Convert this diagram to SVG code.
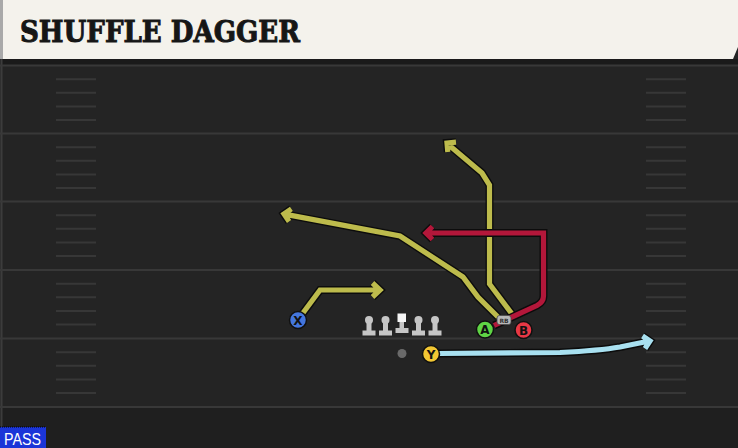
<svg xmlns="http://www.w3.org/2000/svg" xmlns:xlink="http://www.w3.org/1999/xlink" width="738" height="448" viewBox="0 0 738 448">
<defs>
<style>
.yard{stroke:#383838;stroke-width:2;fill:none}
.hash{stroke:#373737;stroke-width:2;fill:none}
.ol{fill:none;stroke:#0c0c0c;stroke-width:8;stroke-linejoin:miter;stroke-miterlimit:4}
.olive{fill:none;stroke:#bdbb4c;stroke-width:5.2;stroke-linejoin:miter;stroke-miterlimit:4}
.red{fill:none;stroke:#b3173a;stroke-width:5.2;stroke-linejoin:miter;stroke-miterlimit:4}
.blue{fill:none;stroke:#a8e0f0;stroke-width:5.2;stroke-linejoin:miter;stroke-miterlimit:4}
.lm{fill:#c6c6c6}
.pl{stroke:#101010;stroke-width:1.5}
.pt{font-family:"DejaVu Sans",sans-serif;font-weight:bold;font-size:12px;fill:#111;text-anchor:middle}
</style>
<path id="rX" d="M300,317 L320,290 L377,290 M372.5,283 L380,290 L372.5,297"/>
<path id="rPost" d="M498,317 L478,297 L463,277 L400,236 L287,214.6 M289.1,221.4 L284,214 L291.4,208.9"/>
<path id="rVert" d="M515,318 L489.5,284 L489.5,185 L482,173 L450,146 M447.8,152 L447,143 L456,142.2"/>
<path id="rRed" d="M494,325.5 L537,305.5 Q543.5,302 543.5,296 L543.5,233 L428,233 M432.5,226.5 L426,233 L432.5,239.5"/>
<path id="rY" d="M439,353.5 L560,352.5 Q600,350.5 620,347 L647,341.5 M642.5,336 L650,341 L645,348.5"/>
</defs>
<g id="field">
<rect x="0" y="0" width="738" height="448" fill="#242424"/>
<rect x="0" y="407" width="738" height="41" fill="#1f1f1f"/>
<rect x="0" y="59" width="738" height="6" fill="#1a1a1a"/>
<line x1="1.5" y1="59" x2="1.5" y2="448" stroke="#3c3c3c" stroke-width="2"/>
<g class="yard">
<line x1="0" y1="65.5" x2="738" y2="65.5"/>
<line x1="0" y1="133.5" x2="738" y2="133.5"/>
<line x1="0" y1="201.5" x2="738" y2="201.5"/>
<line x1="0" y1="270" x2="738" y2="270"/>
<line x1="0" y1="338.5" x2="738" y2="338.5"/>
<line x1="0" y1="407" x2="738" y2="407"/>
</g>
<g class="hash">
<path d="M56,79.2H96M56,92.8H96M56,106.5H96M56,120.1H96M56,147.2H96M56,160.8H96M56,174.5H96M56,188.1H96M56,215.2H96M56,228.8H96M56,242.5H96M56,256.1H96M56,283.7H96M56,297.3H96M56,311H96M56,324.6H96M56,352.2H96M56,365.8H96M56,379.5H96M56,393.1H96"/>
<path d="M646,79.2H686M646,92.8H686M646,106.5H686M646,120.1H686M646,147.2H686M646,160.8H686M646,174.5H686M646,188.1H686M646,215.2H686M646,228.8H686M646,242.5H686M646,256.1H686M646,283.7H686M646,297.3H686M646,311H686M646,324.6H686M646,352.2H686M646,365.8H686M646,379.5H686M646,393.1H686"/>
</g>
</g>
<g id="title">
<polygon points="0,0 738,0 738,47 733,59 0,59" fill="#f4f2ec"/>
<rect x="0" y="0" width="3" height="59" fill="#a9a9a9"/>
<text x="20" y="42" font-family="'DejaVu Serif',serif" font-weight="bold" font-size="30" fill="#161616" stroke="#161616" stroke-width="1" textLength="280" lengthAdjust="spacingAndGlyphs">SHUFFLE DAGGER</text>
</g>
<g id="connectors">
<use xlink:href="#rX" class="ol"/><use xlink:href="#rX" class="olive"/>
<use xlink:href="#rPost" class="ol"/><use xlink:href="#rPost" class="olive"/>
<use xlink:href="#rVert" class="ol"/><use xlink:href="#rVert" class="olive"/>
<use xlink:href="#rRed" class="ol"/><use xlink:href="#rRed" class="red"/>
<use xlink:href="#rY" class="ol"/><use xlink:href="#rY" class="blue"/>
</g>
<g id="line">
<g id="lt" class="lm"><circle cx="369" cy="320" r="4"/><rect x="366.5" y="322" width="5" height="9"/><rect x="362.5" y="330.5" width="13" height="5"/></g>
<g id="lg" class="lm"><circle cx="385.5" cy="320" r="4"/><rect x="383" y="322" width="5" height="9"/><rect x="379" y="330.5" width="13" height="5"/></g>
<g id="c" class="lm"><rect x="397.5" y="313.5" width="8.5" height="8.5" fill="#f6f6f6"/><rect x="399.5" y="322" width="4.5" height="7"/><rect x="395.5" y="328" width="13" height="5"/></g>
<g id="rg" class="lm"><circle cx="418.5" cy="320" r="4"/><rect x="416" y="322" width="5" height="9"/><rect x="412" y="330.5" width="13" height="5"/></g>
<g id="rt" class="lm"><circle cx="435" cy="320" r="4"/><rect x="432.5" y="322" width="5" height="9"/><rect x="428.5" y="330.5" width="13" height="5"/></g>
</g>
<g id="qb"><circle cx="402" cy="353.5" r="4.5" fill="#6a6a6a"/></g>
<g id="rb"><rect x="497" y="315.5" width="14" height="9" rx="2.5" fill="#b8b8b8" stroke="#4a4a4a" stroke-width="0.8"/><text x="504" y="322.5" font-family="'DejaVu Sans',sans-serif" font-weight="bold" font-size="6" fill="#333" text-anchor="middle">RB</text></g>
<g id="pX"><circle class="pl" cx="298" cy="320" r="8.5" fill="#4476dd"/><text class="pt" x="298" y="324.5">X</text></g>
<g id="pY"><circle class="pl" cx="431" cy="354" r="8.5" fill="#f2c733"/><text class="pt" x="431" y="358.5">Y</text></g>
<g id="pA"><circle class="pl" cx="485" cy="329.5" r="8.5" fill="#5fd445"/><text class="pt" x="485" y="334">A</text></g>
<g id="pB"><circle class="pl" cx="523.5" cy="330" r="8.5" fill="#e83845"/><text class="pt" x="523.5" y="334.5">B</text></g>
<g id="pass">
<rect x="0" y="427" width="46" height="21" fill="#1b35d8"/>
<line x1="0" y1="427" x2="46" y2="427" stroke="#000" stroke-width="1" stroke-dasharray="1,1"/>
<text x="4" y="445" font-family="'Liberation Sans',sans-serif" font-size="16" fill="#ffffff" textLength="37" lengthAdjust="spacingAndGlyphs">PASS</text>
</g>
</svg>
